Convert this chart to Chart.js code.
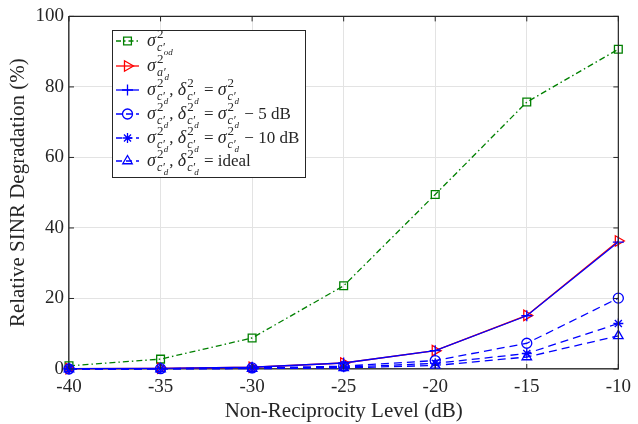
<!DOCTYPE html>
<html>
<head>
<meta charset="utf-8">
<script src="https://cdn.jsdelivr.net/npm/chart.js@4/dist/chart.umd.min.js"></script>
<style>
  html, body { margin: 0; padding: 0; background: #fff; }
  #wrap { width: 638px; height: 424px; }
</style>
</head>
<body>
<div id="wrap"><canvas id="c" width="638" height="424"></canvas></div>
<script>
// Non-reciprocity level (dB) on the x axis
const levels = [-40, -35, -30, -25, -20, -15, -10];

// Relative SINR degradation (%) per curve
const degOd      = [0.9, 2.8, 8.8, 23.6, 49.5, 75.7, 90.7];
const degAd      = [0.1, 0.2, 0.5, 1.7, 5.2, 15.2, 36.3];
const degCdEqual = [0.1, 0.2, 0.5, 1.7, 5.2, 15.1, 36.0];
const degCd5     = [0.0, 0.1, 0.3, 0.8, 2.4, 7.3, 20.1];
const degCd10    = [0.0, 0.1, 0.2, 0.5, 1.6, 4.4, 12.9];
const degCdIdeal = [0.0, 0.0, 0.1, 0.3, 1.0, 3.4, 9.4];

const yTicks = [0, 20, 40, 60, 80, 100];

const FONT = "'Liberation Serif', 'DejaVu Serif', serif";
const INK = '#262626';
const GREEN = '#008000';
const RED = '#ff0000';
const BLUE = '#0000ff';

function pts(vals) { return levels.map((x, i) => ({ x: x, y: vals[i] })); }

const series = [
  { data: degOd,      color: GREEN, dash: [6, 3, 1.5, 3], style: 'rect',     radius: 5.5, rot: 0 },
  { data: degAd,      color: RED,   dash: [],             style: 'triangle', radius: 6,   rot: 90 },
  { data: degCdEqual, color: BLUE,  dash: [],             style: 'cross',    radius: 5.5, rot: 0 },
  { data: degCd5,     color: BLUE,  dash: [8, 5],         style: 'circle',   radius: 5,   rot: 0 },
  { data: degCd10,    color: BLUE,  dash: [8, 5],         style: 'star',     radius: 5,   rot: 0 },
  { data: degCdIdeal, color: BLUE,  dash: [8, 5],         style: 'triangle', radius: 5.5, rot: 0 }
];

// legend label pieces: ['s', base, sub, subsub] is a squared symbol with nested subscripts
const legendRows = [
  [['s', 'σ', 'c′', 'od']],
  [['s', 'σ', 'a′', 'd']],
  [['s', 'σ', 'c′', 'd'], ['t', ', '], ['s', 'δ', 'c′', 'd'], ['t', ' = '], ['s', 'σ', 'c′', 'd']],
  [['s', 'σ', 'c′', 'd'], ['t', ', '], ['s', 'δ', 'c′', 'd'], ['t', ' = '], ['s', 'σ', 'c′', 'd'], ['t', ' − 5 dB']],
  [['s', 'σ', 'c′', 'd'], ['t', ', '], ['s', 'δ', 'c′', 'd'], ['t', ' = '], ['s', 'σ', 'c′', 'd'], ['t', ' − 10 dB']],
  [['s', 'σ', 'c′', 'd'], ['t', ', '], ['s', 'δ', 'c′', 'd'], ['t', ' = ideal']]
];

function drawMath(ctx, x, y, pieces) {
  ctx.textBaseline = 'alphabetic';
  ctx.textAlign = 'left';
  for (const p of pieces) {
    if (p[0] === 't') {
      ctx.font = '17px ' + FONT;
      ctx.fillText(p[1], x, y);
      x += ctx.measureText(p[1]).width;
    } else {
      ctx.font = 'italic 18px ' + FONT;
      ctx.fillText(p[1], x, y);
      x += ctx.measureText(p[1]).width + 1;
      ctx.font = '13px ' + FONT;
      ctx.fillText('2', x, y - 8);
      const w2 = ctx.measureText('2').width;
      ctx.font = 'italic 12px ' + FONT;
      ctx.fillText(p[2], x, y + 5);
      const w3 = ctx.measureText(p[2]).width;
      ctx.font = 'italic 9px ' + FONT;
      ctx.fillText(p[3], x + w3 - 1, y + 9);
      const w4 = ctx.measureText(p[3]).width;
      x += Math.max(w2, w3 - 1 + w4) + 1;
    }
  }
}

const framePlugin = {
  id: 'frame',
  afterDatasetsDraw(chart) {
    const ctx = chart.ctx;
    const a = chart.chartArea;
    const xs = chart.scales.x, ys = chart.scales.y;
    ctx.save();
    ctx.strokeStyle = INK;
    ctx.lineWidth = 1.2;
    ctx.beginPath();
    ctx.moveTo(a.left, a.top); ctx.lineTo(a.right, a.top); ctx.lineTo(a.right, a.bottom);
    ctx.stroke();
    // inward tick marks on all four sides
    ctx.lineWidth = 1;
    ctx.beginPath();
    for (const v of levels) {
      const px = xs.getPixelForValue(v);
      ctx.moveTo(px, a.bottom); ctx.lineTo(px, a.bottom - 5);
      ctx.moveTo(px, a.top); ctx.lineTo(px, a.top + 5);
    }
    for (const v of yTicks) {
      const py = ys.getPixelForValue(v);
      ctx.moveTo(a.left, py); ctx.lineTo(a.left + 5, py);
      ctx.moveTo(a.right, py); ctx.lineTo(a.right - 5, py);
    }
    ctx.stroke();
    ctx.restore();
  },
  afterDraw(chart) {
    const ctx = chart.ctx;
    const bx = 112, by = 30, bw = 193, bh = 147;
    ctx.save();
    ctx.fillStyle = '#fff';
    ctx.fillRect(bx, by, bw, bh);
    ctx.strokeStyle = INK;
    ctx.lineWidth = 1;
    ctx.strokeRect(bx + 0.5, by + 0.5, bw, bh);
    const rowY = [41, 66, 90, 114, 138, 161];
    const legendDash = [[5, 3, 1.5, 3], [], [], [6, 4], [6, 4], [6, 4]];
    series.forEach((s, i) => {
      const y = rowY[i];
      ctx.strokeStyle = s.color;
      ctx.lineWidth = 1.3;
      ctx.setLineDash(legendDash[i]);
      ctx.beginPath();
      ctx.moveTo(116, y); ctx.lineTo(139, y);
      ctx.stroke();
      ctx.setLineDash([]);
      ctx.fillStyle = 'rgba(0,0,0,0)';
      Chart.helpers.drawPoint(ctx, {
        pointStyle: s.style, radius: s.radius, rotation: s.rot, borderWidth: 1.3
      }, 127.5, y);
      ctx.fillStyle = INK;
      drawMath(ctx, 147, y + 5, legendRows[i]);
    });
    ctx.restore();
  }
};

new Chart(document.getElementById('c'), {
  type: 'line',
  data: {
    datasets: series.map((s, i) => ({
      data: pts(s.data),
      order: series.length - i,
      borderColor: s.color,
      backgroundColor: s.color,
      borderWidth: 1.3,
      borderDash: s.dash,
      pointStyle: s.style,
      pointRadius: s.radius,
      pointRotation: s.rot,
      pointBorderColor: s.color,
      pointBackgroundColor: 'rgba(0,0,0,0)',
      pointBorderWidth: 1.3,
      tension: 0,
      clip: false
    }))
  },
  options: {
    responsive: false,
    animation: false,
    events: [],
    layout: { padding: { top: 13, right: 14, left: 0, bottom: 0 } },
    plugins: { legend: { display: false }, tooltip: { enabled: false } },
    scales: {
      x: {
        type: 'linear',
        min: -40, max: -10,
        afterBuildTicks(scale) { scale.ticks = levels.map(v => ({ value: v })); },
        afterFit(scale) { scale.height = 55; },
        grid: { color: '#e3e3e3', lineWidth: 1, drawTicks: false },
        border: { display: true, color: '#404040', width: 1.5 },
        ticks: {
          color: INK, padding: 7,
          font: { family: FONT, size: 19 },
          callback: v => String(v)
        },
        title: {
          display: true, text: 'Non-Reciprocity Level (dB)', color: INK,
          font: { family: FONT, size: 21 }, padding: { top: 0, bottom: 0 }
        }
      },
      y: {
        min: 0, max: 100,
        afterBuildTicks(scale) { scale.ticks = yTicks.map(v => ({ value: v })); },
        afterFit(scale) { scale.width = 69; },
        grid: { color: '#e3e3e3', lineWidth: 1, drawTicks: false },
        border: { display: true, color: '#404040', width: 1.5 },
        ticks: {
          color: INK, padding: 5,
          font: { family: FONT, size: 19 }
        },
        title: {
          display: true, text: 'Relative SINR Degradation (%)', color: INK,
          font: { family: FONT, size: 21 }, padding: { top: 6, bottom: 0 }
        }
      }
    }
  },
  plugins: [framePlugin]
});
</script>
</body>
</html>
